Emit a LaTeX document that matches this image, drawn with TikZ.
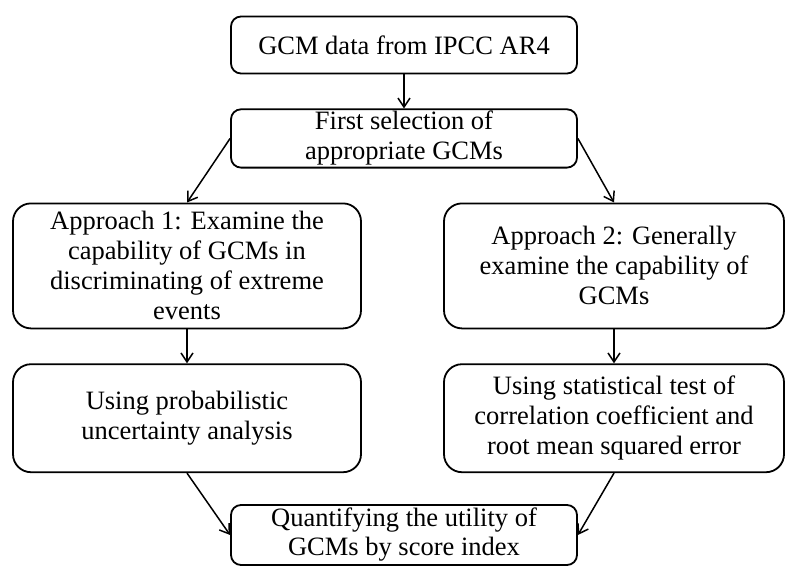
\documentclass[tikz,border=0pt]{standalone}
\usepackage{fontspec}
\setmainfont{Liberation Serif}
\usepackage{tikz}
\usetikzlibrary{arrows.meta,positioning}

\begin{document}
\begin{tikzpicture}[
  x=1pt,y=1pt,
  node distance=34pt and 34pt,
  stepbox/.style={draw=black,line width=1.8pt,rounded corners=10pt,fill=white,minimum width=346pt,minimum height=57pt,align=center,inner sep=2pt,font=\fontsize{26.5}{30}\selectfont},
  bigbox/.style={stepbox,rounded corners=18pt,minimum width=348pt,minimum height=125pt},
  midbox/.style={bigbox,minimum height=108pt},
  arr/.style={-{Straight Barb[length=9pt,width=12pt,line width=1.5pt]},line width=1.5pt,draw=black}
]
\useasboundingbox (0,0) rectangle (787,-565);
\clip (0,0) rectangle (787,-565);
\node[stepbox] (gcm) at (404,-45) {GCM data from IPCC AR4};
\node[stepbox,below=of gcm] (select) {First selection of\\appropriate GCMs};
\node[bigbox,below=of select,xshift=-217pt] (appr1) {Approach 1: Examine the\\capability of GCMs in\\discriminating of extreme\\events};
\node[bigbox,below=of select,xshift=210pt,minimum width=340pt] (appr2) {Approach 2: Generally\\examine the capability of\\GCMs};
\node[midbox,below=of appr1] (prob) {Using probabilistic\\uncertainty analysis};
\node[midbox,below=of appr2,minimum width=340pt] (stat) {Using statistical test of\\correlation coefficient and\\root mean squared error};
\node[stepbox,below=31pt of prob,xshift=217pt,minimum height=60pt,font=\fontsize{26.5}{29}\selectfont] (quant) {Quantifying the utility of\\GCMs by score index};
\draw[arr] (gcm)--(select);
\draw[arr] (select.west)--(appr1.north);
\draw[arr] (select.east)--(appr2.north);
\draw[arr] (appr1)--(prob);
\draw[arr] (appr2)--(stat);
\draw[arr] (prob.south)--(quant.west);
\draw[arr] (stat.south)--(quant.east);
\end{tikzpicture}
\end{document}
